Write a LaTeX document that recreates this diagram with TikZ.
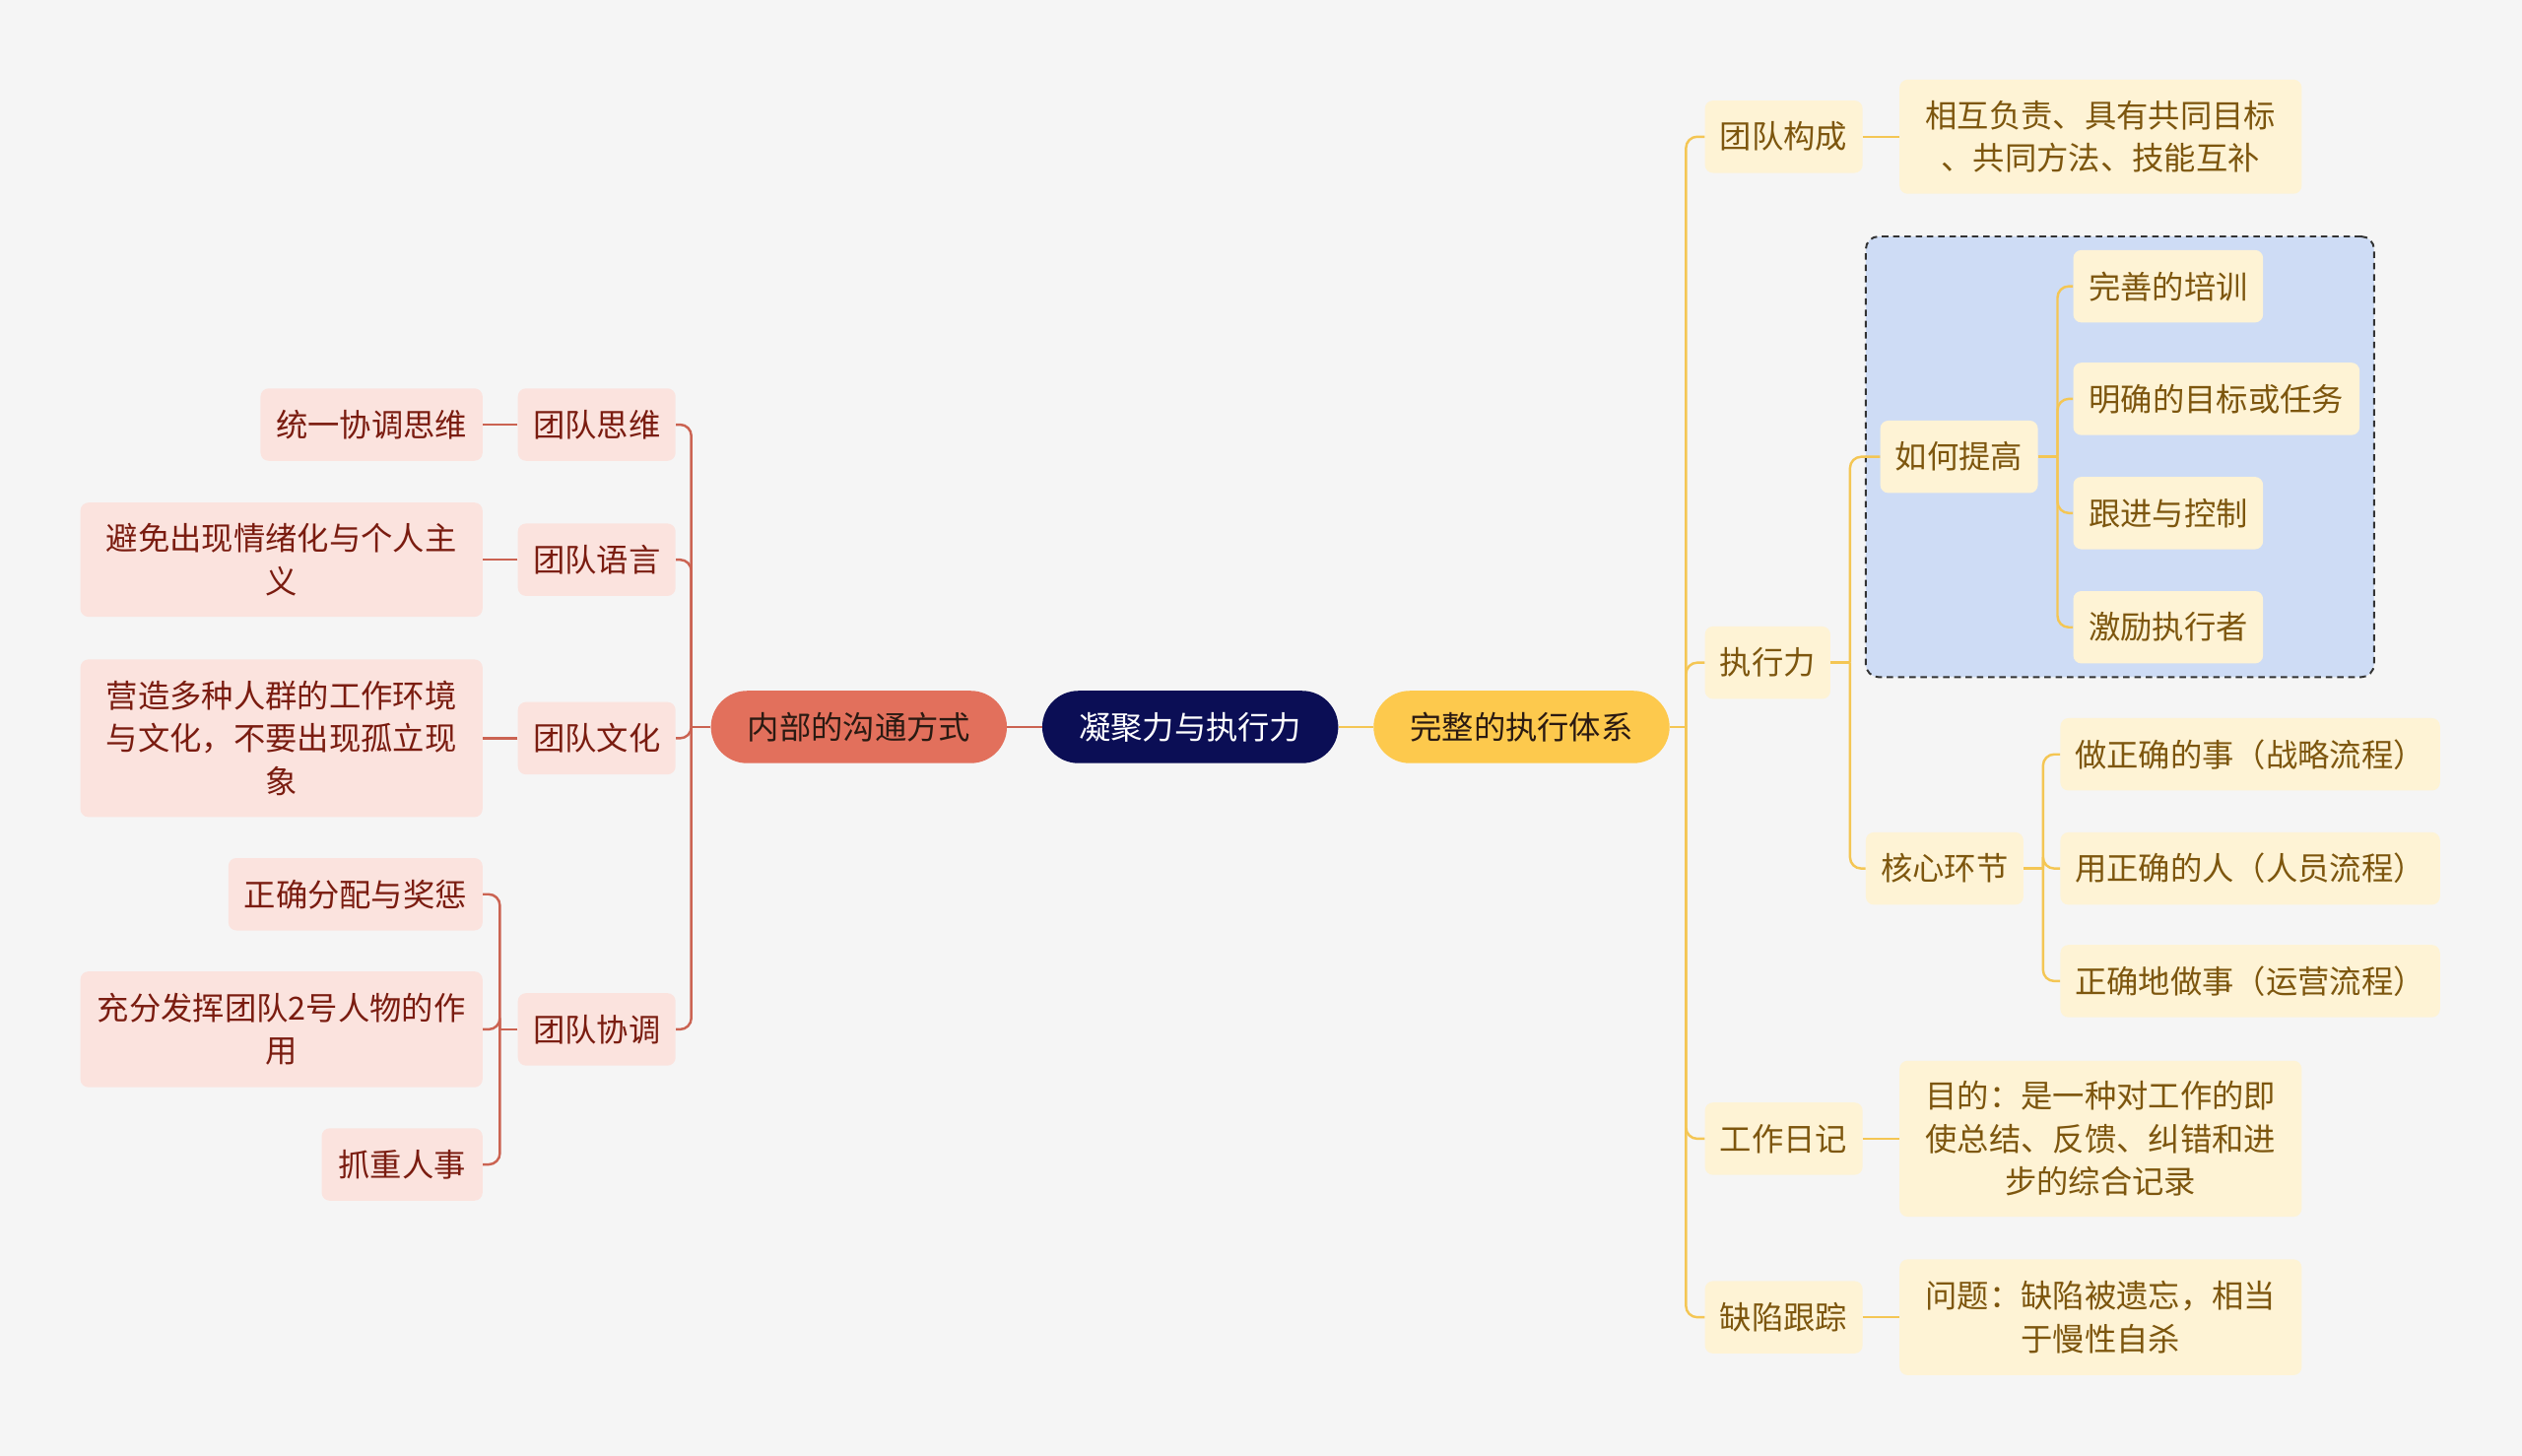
\documentclass[tikz,border=0pt]{standalone}
\usepackage{fontspec}
\setmainfont{Noto Sans CJK SC}
\definecolor{bg}{HTML}{F5F5F5}
\definecolor{pinkfill}{HTML}{FBE3DE}
\definecolor{pinktext}{HTML}{7A1C10}
\definecolor{redline}{HTML}{CB6352}
\definecolor{creamfill}{HTML}{FEF3D5}
\definecolor{browntext}{HTML}{7D560E}
\definecolor{yellowline}{HTML}{F4C654}
\definecolor{bluefill}{HTML}{CEDCF5}
\definecolor{navy}{HTML}{0B0E55}
\definecolor{coral}{HTML}{E2705C}
\definecolor{gold}{HTML}{FDC94D}
\definecolor{darktext}{HTML}{2A1A12}
\definecolor{dashcol}{HTML}{333333}
\begin{document}
\begin{tikzpicture}[x=1pt,y=-1pt,
  every node/.style={font=\fontsize{19.8}{26.5}\selectfont, inner sep=0pt, align=center},
  lbox/.style={fill=pinkfill, text=pinktext, rounded corners=5pt, minimum height=45pt},
  rbox/.style={fill=creamfill, text=browntext, rounded corners=5pt, minimum height=45pt},
  mainbox/.style={rounded corners=22.5pt, minimum height=45pt, minimum width=184pt},
  hl/.style={fill=bluefill, draw=dashcol, line width=1.2pt, dash pattern=on 4pt off 3pt, rounded corners=8pt},
  lline/.style={draw=redline, line width=1.5pt, rounded corners=7pt},
  rline/.style={draw=yellowline, line width=1.5pt, rounded corners=7pt}]
\fill[bg] (0,0) rectangle (1568,905);
\useasboundingbox (0,0) rectangle (1568,905);

% highlight box
\node[hl, minimum width=316pt, minimum height=274pt] (hlbox) at (1318,284) {};

% main nodes
\node[mainbox, fill=navy, text=white] (center) at (740,452) {凝聚力与执行力};
\node[mainbox, fill=coral, text=darktext] (neibu) at (534,452) {内部的沟通方式};
\node[mainbox, fill=gold, text=darktext] (wanzheng) at (946,452) {完整的执行体系};

% left
\node[lbox, minimum width=98pt] (siwei) at (371,264) {团队思维};
\node[lbox, minimum width=138pt] (tongyi) at (231,264) {统一协调思维};
\node[lbox, minimum width=98pt] (yuyan) at (371,348) {团队语言};
\node[lbox, minimum width=250pt, minimum height=71pt] (bimian) at (175,348) {避免出现情绪化与个人主\\义};
\node[lbox, minimum width=98pt] (wenhua) at (371,459) {团队文化};
\node[lbox, minimum width=250pt, minimum height=98pt] (yingzao) at (175,459) {营造多种人群的工作环境\\与文化，不要出现孤立现\\象};
\node[lbox, minimum width=98pt] (xietiao) at (371,640) {团队协调};
\node[lbox, minimum width=158pt] (fenpei) at (221,556) {正确分配与奖惩};
\node[lbox, minimum width=250pt, minimum height=72pt] (fahui) at (175,640) {充分发挥团队2号人物的作\\用};
\node[lbox, minimum width=100pt] (zhua) at (250,724) {抓重人事};

% right
\node[rbox, minimum width=98pt] (goucheng) at (1109,85) {团队构成};
\node[rbox, minimum width=250pt, minimum height=71pt] (huxiang) at (1306,85) {相互负责、具有共同目标\\、共同方法、技能互补};
\node[rbox, minimum width=78pt] (zhixing) at (1099,412) {执行力};
\node[rbox, minimum width=98pt] (tigao) at (1218,284) {如何提高};
\node[rbox, minimum width=118pt] (peixun) at (1348,178) {完善的培训};
\node[rbox, minimum width=178pt] (mubiao) at (1378,248) {明确的目标或任务};
\node[rbox, minimum width=118pt] (genjin) at (1348,319) {跟进与控制};
\node[rbox, minimum width=118pt] (jili) at (1348,390) {激励执行者};
\node[rbox, minimum width=98pt] (hexin) at (1209,540) {核心环节};
\node[rbox, minimum width=236pt] (zuoshi) at (1399,469) {做正确的事（战略流程）};
\node[rbox, minimum width=236pt] (yongren) at (1399,540) {用正确的人（人员流程）};
\node[rbox, minimum width=236pt] (zhengque) at (1399,610) {正确地做事（运营流程）};
\node[rbox, minimum width=98pt] (riji) at (1109,708) {工作日记};
\node[rbox, minimum width=250pt, minimum height=97pt] (mudi) at (1306,708) {目的：是一种对工作的即\\使总结、反馈、纠错和进\\步的综合记录};
\node[rbox, minimum width=98pt] (quexian) at (1109,819) {缺陷跟踪};
\node[rbox, minimum width=250pt, minimum height=72pt] (wenti) at (1306,819) {问题：缺陷被遗忘，相当\\于慢性自杀};

% junction coordinates
\path (neibu.west) ++(-12,0) coordinate (jneibu);
\path (xietiao.west) ++(-11,0) coordinate (jxietiao);
\path (wanzheng.east) ++(10,0) coordinate (jwanzheng);
\path (zhixing.east) ++(12,0) coordinate (jzhixing);
\path (tigao.east) ++(12,0) coordinate (jtigao);
\path (hexin.east) ++(12,0) coordinate (jhexin);

% connectors center
\draw[lline] (center.west) -- (neibu.east);
\draw[rline] (center.east) -- (wanzheng.west);

% left connectors
\draw[lline] (neibu.west) -- (jneibu);
\foreach \c in {siwei,yuyan,wenhua,xietiao}
  \draw[lline] (jneibu) |- (\c.east);
\draw[lline] (siwei.west) -- (tongyi.east);
\draw[lline] (yuyan.west) -- (bimian.east);
\draw[lline] (wenhua.west) -- (yingzao.east);
\draw[lline] (xietiao.west) -- (jxietiao);
\foreach \c in {fenpei,fahui,zhua}
  \draw[lline] (jxietiao) |- (\c.east);

% right connectors
\draw[rline] (wanzheng.east) -- (jwanzheng);
\foreach \c in {goucheng,zhixing,riji,quexian}
  \draw[rline] (jwanzheng) |- (\c.west);
\draw[rline] (goucheng.east) -- (huxiang.west);
\draw[rline] (riji.east) -- (mudi.west);
\draw[rline] (quexian.east) -- (wenti.west);
\draw[rline] (zhixing.east) -- (jzhixing);
\foreach \c in {tigao,hexin}
  \draw[rline] (jzhixing) |- (\c.west);
\draw[rline] (tigao.east) -- (jtigao);
\foreach \c in {peixun,mubiao,genjin,jili}
  \draw[rline] (jtigao) |- (\c.west);
\draw[rline] (hexin.east) -- (jhexin);
\foreach \c in {zuoshi,yongren,zhengque}
  \draw[rline] (jhexin) |- (\c.west);
\end{tikzpicture}
\end{document}
